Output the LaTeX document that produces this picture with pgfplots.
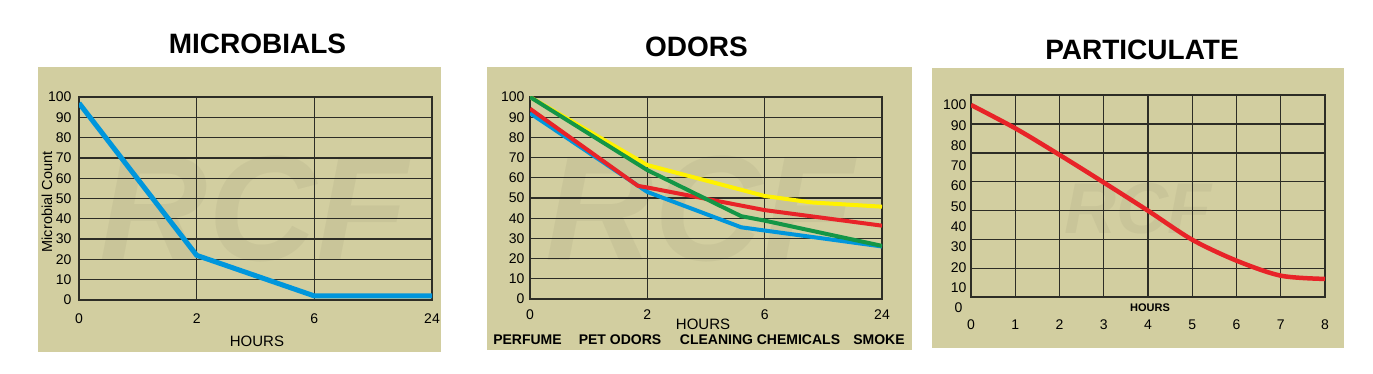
\documentclass[border=0pt]{standalone}
\usepackage{fontspec}
\setmainfont{Liberation Sans}
\usepackage{pgfplots}
\pgfplotsset{compat=1.18}
\definecolor{bg}{RGB}{210,206,160}
\definecolor{gridc}{RGB}{45,45,38}
\definecolor{lblue}{RGB}{0,150,220}
\definecolor{lred}{RGB}{232,35,40}
\definecolor{lgreen}{RGB}{20,150,70}
\definecolor{lyellow}{RGB}{255,242,0}
\pgfplotsset{
  panel/.style={
    scale only axis, anchor=south west,
    axis line style={gridc, line width=1.5pt},
    grid=major, major grid style={gridc, line width=1.3pt},
    tick style={draw=none},
    tick label style={font=\fontsize{14}{16}\selectfont},
    /pgf/number format/assume math mode=true,
  }
}
\begin{document}
\begin{tikzpicture}[x=1pt,y=1pt]
\path[use as bounding box] (0pt,0pt) rectangle (1373pt,374pt);
% backgrounds
\fill[bg] (38pt,22pt) rectangle (441pt,307pt);
\fill[bg] (487pt,24pt) rectangle (912pt,307pt);
\fill[bg] (932pt,26pt) rectangle (1344pt,306pt);
% watermarks
\node[font=\bfseries\itshape\fontsize{150}{150}\selectfont, text=black, opacity=0.04] at (254pt,165pt) {RCF};
\node[font=\bfseries\itshape\fontsize{150}{150}\selectfont, text=black, opacity=0.04] at (700pt,165pt) {RCF};
\node[font=\bfseries\itshape\fontsize{72}{72}\selectfont, text=black, opacity=0.04] at (1138pt,165pt) {RCF};
% titles
\node[font=\bfseries\fontsize{28}{30}\selectfont] at (257.5pt,330pt) {MICROBIALS};
\node[font=\bfseries\fontsize{28}{30}\selectfont] at (696.5pt,327.5pt) {ODORS};
\node[font=\bfseries\fontsize{28}{30}\selectfont] at (1142pt,324pt) {PARTICULATE};

% ---------- Panel 1 ----------
\begin{axis}[panel, at={(79pt,74pt)}, width=353pt, height=203pt,
  xmin=0, xmax=3, ymin=0, ymax=100,
  xtick={0,1,2,3}, xticklabels={0,2,6,24},
  ytick={0,10,...,100},
  yticklabel style={xshift=-4pt},
  xticklabel style={yshift=-10pt}]
\addplot[lblue, line width=5pt, line join=round] coordinates {(0,97) (1,22) (2,2) (3,2)};
\end{axis}
\node[font=\fontsize{15}{17}\selectfont] at (257pt,33pt) {HOURS};
\node[font=\fontsize{14.5}{16}\selectfont, rotate=90] at (47pt,172pt) {Microbial Count};

% ---------- Panel 2 ----------
\begin{axis}[panel, at={(530pt,75pt)}, width=352pt, height=202pt,
  xmin=0, xmax=3, ymin=0, ymax=100,
  xtick={0,1,2,3}, xticklabels={0,2,6,24},
  ytick={0,10,...,100},
  yticklabel style={xshift=-2pt},
  xticklabel style={yshift=-7pt}]
\addplot[lyellow, line width=4pt, line join=round] coordinates {(0,100) (1,66.3) (2,51) (2.4,47.8) (3,45.7)};
\addplot[lblue, line width=4pt, line join=round] coordinates {(0,92) (1,53) (1.8,35.5) (2,33.9) (3,26)};
\addplot[lred, line width=4pt, line join=round] coordinates {(0,94.2) (0.92,56) (1,55.2) (2,44) (3,36.3)};
\addplot[lgreen, line width=4pt, line join=round] coordinates {(0,100) (1,63.8) (1.8,41) (2,38.8) (3,26.3)};
\end{axis}
\node[font=\fontsize{15}{17}\selectfont] at (703pt,50pt) {HOURS};
\node[font=\bfseries\fontsize{14}{16}\selectfont] at (527.5pt,34pt) {PERFUME};
\node[font=\bfseries\fontsize{14}{16}\selectfont] at (620pt,34pt) {PET ODORS};
\node[font=\bfseries\fontsize{14}{16}\selectfont] at (760pt,34pt) {CLEANING CHEMICALS};
\node[font=\bfseries\fontsize{14}{16}\selectfont] at (879pt,34pt) {SMOKE};

% ---------- Panel 3 ----------
\begin{axis}[panel, at={(971pt,77pt)}, width=354pt, height=202pt,
  xmin=0, xmax=8, ymin=5.4, ymax=104.9,
  xtick={0,1,...,8},
  ytick={19.6,33.8,48.0,62.2,76.4,90.6}, yticklabels={},
  extra y ticks={10,20,...,100},
  extra y tick style={grid=none, yticklabel style={xshift=-1pt}},
  xticklabel style={yshift=-19pt}]
\addplot[lred, line width=4.5pt, smooth, line join=round] coordinates {(0,100) (1,88.5) (2,75.4) (3,61.8) (4,47.9) (5,33.6) (6,23.3) (7,15.9) (8,14.3)};
\end{axis}
\node[font=\fontsize{14}{16}\selectfont, anchor=east] at (966pt,66pt) {0};
\node[font=\bfseries\fontsize{11}{13}\selectfont] at (1150pt,66pt) {HOURS};
\end{tikzpicture}
\end{document}
